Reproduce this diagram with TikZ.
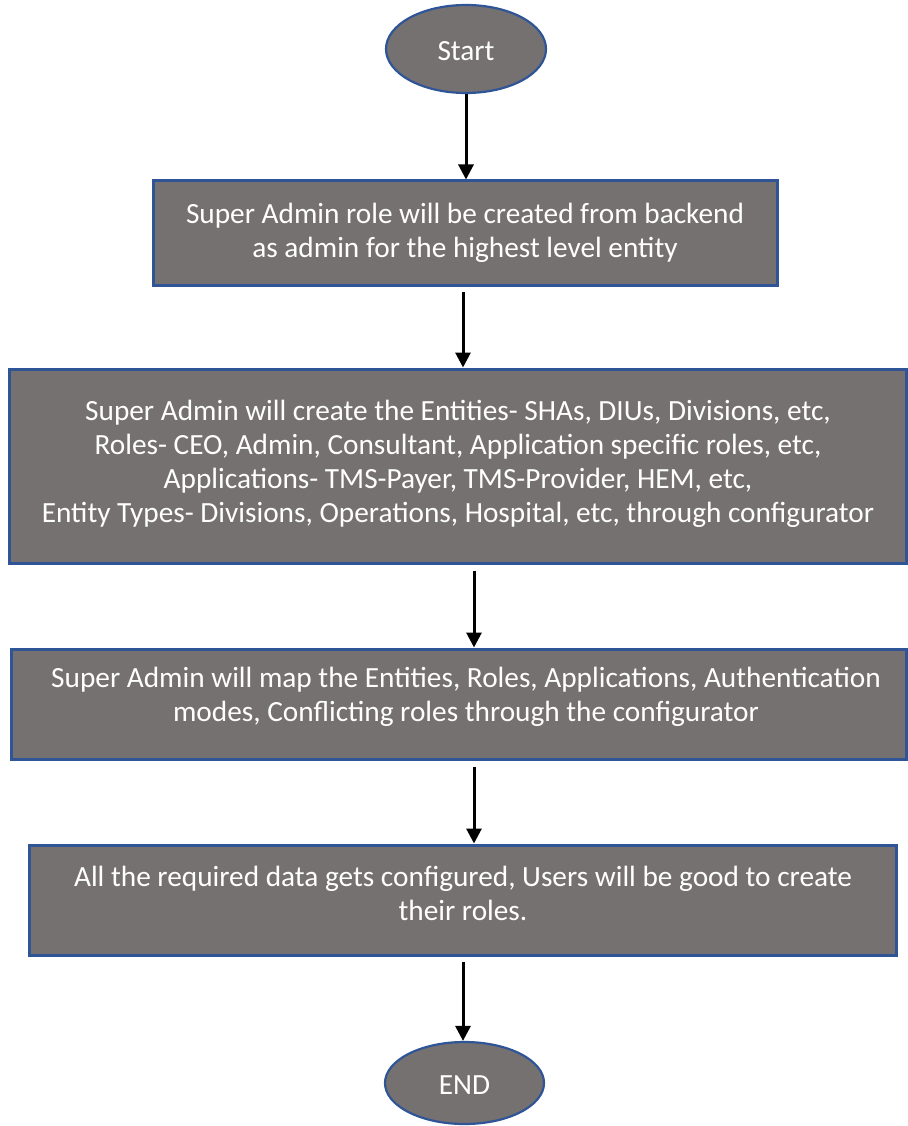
\documentclass[tikz,border=0pt]{standalone}
\usepackage{fontspec}
\setmainfont{Carlito}
\usetikzlibrary{arrows.meta,shapes.geometric}
\definecolor{boxfill}{HTML}{767171}
\definecolor{boxline}{HTML}{2F5597}
\tikzset{
  procbox/.style={draw=boxline, line width=3pt, fill=boxfill, inner sep=0pt, anchor=center},
  termnode/.style={ellipse, draw=boxline, line width=2.2pt, fill=boxfill, inner sep=0pt, anchor=center},
  lbl/.style={text=white, font=\fontsize{29.3}{34}\selectfont, align=center, inner sep=0pt},
  arr/.style={line width=3pt, -{Triangle[width=15pt,length=15pt]}}
}
\begin{document}
\begin{tikzpicture}[x=1pt,y=-1pt]
\useasboundingbox (0,0) rectangle (907,1126);
\node[termnode, minimum width=160pt, minimum height=88pt] (start) at (466,49) {};
\node[lbl] at (466,51) {Start};
\node[procbox, minimum width=624pt, minimum height=104pt] (b1) at (465,233) {};
\node[lbl] at (465,233) {Super Admin role will be created from backend\\as admin for the highest level entity};
\node[procbox, minimum width=897pt, minimum height=194pt] (b2) at (457.5,466) {};
\node[lbl] at (458,464) {Super Admin will create the Entities- SHAs, DIUs, Divisions, etc,\\Roles- CEO, Admin, Consultant, Application specific roles, etc,\\Applications- TMS-Payer, TMS-Provider, HEM, etc,\\Entity Types- Divisions, Operations, Hospital, etc, through configurator};
\node[procbox, minimum width=895pt, minimum height=110pt] (b3) at (458.5,704) {};
\node[lbl] at (466,697) {Super Admin will map the Entities, Roles, Applications, Authentication\\modes, Conflicting roles through the configurator};
\node[procbox, minimum width=867pt, minimum height=110pt] (b4) at (462.5,900) {};
\node[lbl] at (463,893) {All the required data gets configured, Users will be good to create\\their roles.};
\node[termnode, minimum width=159pt, minimum height=82pt] (end) at (464.5,1083) {};
\node[lbl] at (464.5,1085) {END};
\draw[arr] (start.south) -- ([xshift=1pt]b1.north);
\draw[arr] ([xshift=-2pt,yshift=-5pt]b1.south) -- ([xshift=5.5pt]b2.north);
\draw[arr] ([xshift=16.5pt,yshift=-6pt]b2.south) -- ([xshift=15.5pt]b3.north);
\draw[arr] ([xshift=15.5pt,yshift=-6pt]b3.south) -- ([xshift=11.5pt]b4.north);
\draw[arr] ([xshift=0.5pt,yshift=-5pt]b4.south) -- ([xshift=-1.5pt]end.north);
\end{tikzpicture}
\end{document}
